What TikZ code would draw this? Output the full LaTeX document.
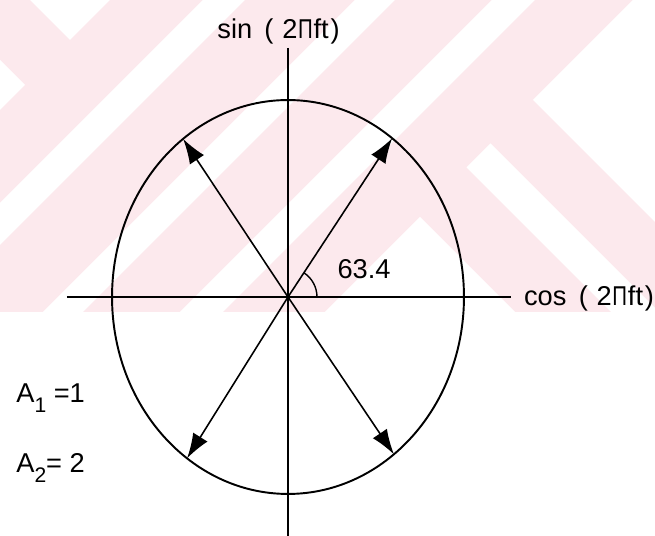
\documentclass[tikz,border=0pt]{standalone}
\usepackage{fontspec}
\setmainfont{Liberation Sans}
\usetikzlibrary{arrows.meta,positioning}
\definecolor{wmpink}{RGB}{252,233,237}
\newcommand{\pift}{(\kern5pt 2\kern.4pt\scalebox{0.75}[1]{Π}\kern.4pt ft\kern1pt)}
\newcommand{\sub}[1]{\raisebox{-5.5pt}{\fontsize{12}{12}\selectfont #1}}

\begin{document}
\begin{tikzpicture}[x=0.02cm,y=0.02cm,>={Latex[length=5mm,width=3.4mm]},
 axis/.style={line width=1pt},
 vec/.style={->,line width=0.9pt},
 lbl/.style={font=\fontsize{15.5}{18}\selectfont,inner sep=0pt}]
\useasboundingbox (-288,-239) rectangle (367,297);
\begin{scope}[shift={(-288,297)},yscale=-1]
\clip (0,0) rectangle (655,312);
\fill[wmpink] (0,0) rectangle (655,312);
\fill[white] (30,0) -- (110,0) -- (70,40) -- cycle;
\fill[white] (0,60) -- (25,85) -- (0,110) -- cycle;
\fill[white] (203,0) -- (245,0) -- (0,245) -- (0,203) -- cycle;
\fill[white] (355,0) -- (395,0) -- (0,395) -- (0,355) -- cycle;
\fill[white] (492,0) -- (535,0) -- (0,535) -- (0,492) -- cycle;
\fill[white] (633,0) -- (720,0) -- (720,287) -- (533,100) -- cycle;
\fill[white] (490.5,143.5) -- (720,373) -- (720,421) -- (466.5,167.5) -- cycle;
\fill[white] (420,217) -- (620,417) -- (220,417) -- cycle;
\end{scope}

\coordinate (O) at (0,0);
\coordinate (xl) at (-221,0);
\coordinate (xr) at (223,0);
\coordinate (yt) at (0,249);
\coordinate (yb) at (0,-239);
\draw[axis] (xl) -- (xr);
\draw[axis] (yt) -- (yb);
\draw[line width=1.1pt] (O) ellipse[x radius=3.52cm,y radius=3.94cm];

\coordinate (ur) at (53.7:3.52cm and 3.94cm);
\coordinate (ul) at (126.6:3.52cm and 3.94cm);
\coordinate (ll) at (235:3.52cm and 3.94cm);
\coordinate (lr) at (307:3.52cm and 3.94cm);
\draw[vec] (O) -- (ur);
\draw[vec] (O) -- (ul);
\draw[vec] (O) -- (ll);
\draw[vec] (O) -- (lr);
\draw[line width=0.8pt] (O) ++(0:0.58cm) arc[start angle=0,end angle=56.7,radius=0.58cm];

\node[lbl] (sin) at (-9.5,266) {sin\hspace{7pt}\pift};
\node[lbl] (cos) at (301,-1) {cos\hspace{7pt}\pift};
\node[lbl] (ang) at (76,28) {63.4};
\node[lbl,anchor=base west] (a1) at (-272,-106) {A\sub{1} =1};
\node[lbl,below=1.4cm of a1.base west,anchor=base west] (a2) {A\sub{2}= 2};
\end{tikzpicture}
\end{document}
